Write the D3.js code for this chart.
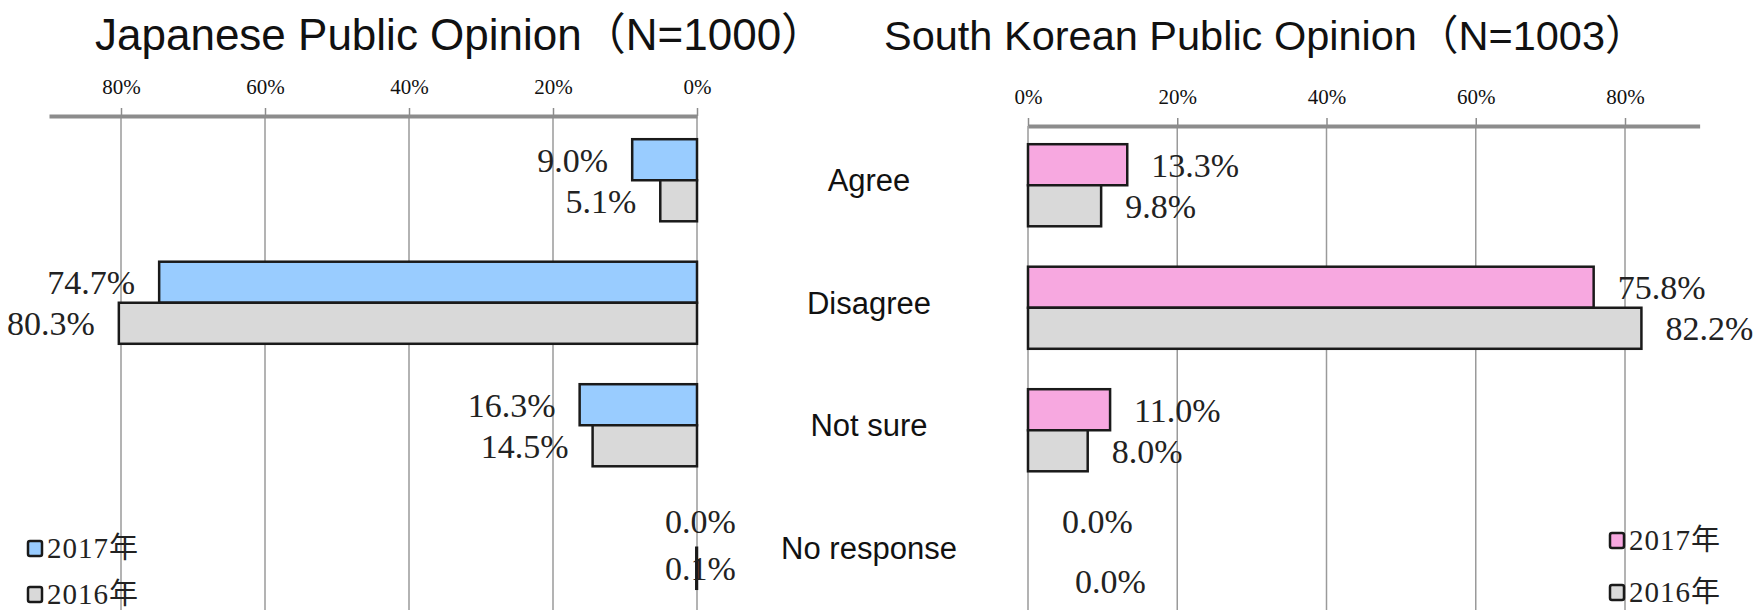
<!DOCTYPE html>
<meta charset="utf-8">
<style>
body { margin: 0; background: #fff; }
svg { display: block; }
.title { font-family: "Liberation Sans", Arial, "Noto Sans CJK JP", sans-serif; font-size: 44px; fill: #111; }
.cat { font-family: "Liberation Sans", Arial, sans-serif; font-size: 31px; fill: #111; }
.axis text { font-family: "Liberation Serif", "Times New Roman", serif; font-size: 21px; fill: #111; }
.axis .domain { stroke: #8c8c8c; stroke-width: 4px; }
.axis .tick line { stroke: #8c8c8c; stroke-width: 1.5px; }
.grid line { stroke: #9a9a9a; stroke-width: 1.5px; }
.val { font-family: "Liberation Serif", "Times New Roman", serif; font-size: 34px; fill: #222; }
.legend text { font-family: "Liberation Serif", "Noto Sans CJK JP", serif; font-size: 29px; fill: #222; letter-spacing: 1px; }
</style>
<body>
<script src="https://cdnjs.cloudflare.com/ajax/libs/d3/7.8.5/d3.min.js"></script>
<script>

var categories = ["Agree", "Disagree", "Not sure", "No response"];
var years = ["2017年", "2016年"];
var tickValues = [0, 20, 40, 60, 80];

var japan2017 = [9.0, 74.7, 16.3, 0.0];
var japan2016 = [5.1, 80.3, 14.5, 0.1];
var korea2017 = [13.3, 75.8, 11.0, 0.0];
var korea2016 = [9.8, 82.2, 8.0, 0.0];

var titles = ["Japanese Public Opinion（N=1000）", "South Korean Public Opinion（N=1003）"];

var width = 1756, height = 610;

var svg = d3.select("body").append("svg")
    .attr("width", width)
    .attr("height", height);

function panel(opt) {
    var x = d3.scaleLinear().domain([0, 90]).range([opt.x0, opt.x0 + opt.dir * 90 * opt.unit]);
    var y = d3.scaleBand().domain(categories).range([opt.top, opt.top + 490])
        .paddingInner(0.33).paddingOuter(0.165);
    var yy = d3.scaleBand().domain(years).range([0, y.bandwidth()]);

    var g = svg.append("g");

    // title
    g.append("text").attr("class", "title")
        .attr("x", opt.titleX).attr("y", 50)
        .style("font-size", opt.titleSize + "px")
        .text(opt.title);

    // gridlines
    g.append("g").attr("class", "grid")
        .selectAll("line").data(tickValues).enter().append("line")
        .attr("x1", function(d) { return x(d); })
        .attr("x2", function(d) { return x(d); })
        .attr("y1", opt.axisY).attr("y2", height);

    // axis on top
    var axis = d3.axisTop(x)
        .tickValues(tickValues)
        .tickSize(8)
        .tickSizeOuter(0)
        .tickPadding(14)
        .tickFormat(function(d) { return d + "%"; });
    g.append("g").attr("class", "axis")
        .attr("transform", "translate(0," + opt.axisY + ")")
        .call(axis);

    // bars
    var rows = categories.map(function(c, i) {
        return [
            {cat: c, year: years[0], k: 0, v: opt.s2017[i], fill: opt.color},
            {cat: c, year: years[1], k: 1, v: opt.s2016[i], fill: "#d9d9d9"}
        ];
    });
    var flat = [].concat.apply([], rows);

    g.append("g").selectAll("rect")
        .data(flat.filter(function(d) { return d.v > 0; }))
        .enter().append("rect")
        .attr("x", function(d) { return Math.min(x(0), x(d.v)); })
        .attr("width", function(d) { return Math.abs(x(d.v) - x(0)); })
        .attr("y", function(d) { return y(d.cat) + yy(d.year); })
        .attr("height", yy.bandwidth())
        .attr("fill", function(d) { return d.fill; })
        .attr("stroke", "#1a1a1a")
        .attr("stroke-width", 2.5);

    // value labels
    g.append("g").selectAll("text")
        .data(flat).enter().append("text")
        .attr("class", "val")
        .attr("x", function(d) {
            if (d.v < 1) return x(0) + opt.zeroOff + d.k * opt.zeroStep;
            return x(d.v) + opt.dir * 24;
        })
        .attr("y", function(d) {
            var c = y(d.cat) + yy(d.year) + yy.bandwidth() / 2;
            return d.v < 1 ? c + opt.zeroDy[d.k] : c;
        })
        .attr("dy", "0.35em")
        .attr("text-anchor", function(d) { return (d.v < 1 || opt.dir > 0) ? "start" : "end"; })
        .text(function(d) { return d.v.toFixed(1) + "%"; });

    // legend
    var lg = g.append("g").attr("class", "legend")
        .selectAll("g").data(years).enter().append("g")
        .attr("transform", function(d, i) { return "translate(" + opt.legX + "," + opt.legY[i] + ")"; });
    lg.append("rect")
        .attr("x", 0).attr("y", -7).attr("width", 14).attr("height", 15)
        .attr("rx", 2)
        .attr("fill", function(d, i) { return i === 0 ? opt.color : "#d9d9d9"; })
        .attr("stroke", "#1a1a1a").attr("stroke-width", 2.5);
    lg.append("text")
        .attr("x", 19).attr("dy", "0.35em")
        .text(function(d) { return d; });

    return y;
}

var yLeft = panel({
    title: titles[0], titleX: 95, titleSize: 44,
    x0: 697, dir: -1, unit: 7.2,
    top: 119, axisY: 116,
    s2017: japan2017, s2016: japan2016, color: "#99ccff",
    zeroOff: -32, zeroStep: 0, zeroDy: [-6, 0],
    legX: 28, legY: [548, 594]
});

panel({
    title: titles[1], titleX: 884, titleSize: 41.5,
    x0: 1028, dir: 1, unit: 7.4625,
    top: 124, axisY: 126,
    s2017: korea2017, s2016: korea2016, color: "#f7a8e0",
    zeroOff: 34, zeroStep: 13, zeroDy: [-11, 8],
    legX: 1610, legY: [540, 592]
});

// category labels in the middle
svg.append("g").selectAll("text")
    .data(categories).enter().append("text")
    .attr("class", "cat")
    .attr("x", 869)
    .attr("y", function(d) { return yLeft(d) + yLeft.bandwidth() / 2; })
    .attr("dy", "0.35em")
    .attr("text-anchor", "middle")
    .text(function(d) { return d; });

</script>
</body>
